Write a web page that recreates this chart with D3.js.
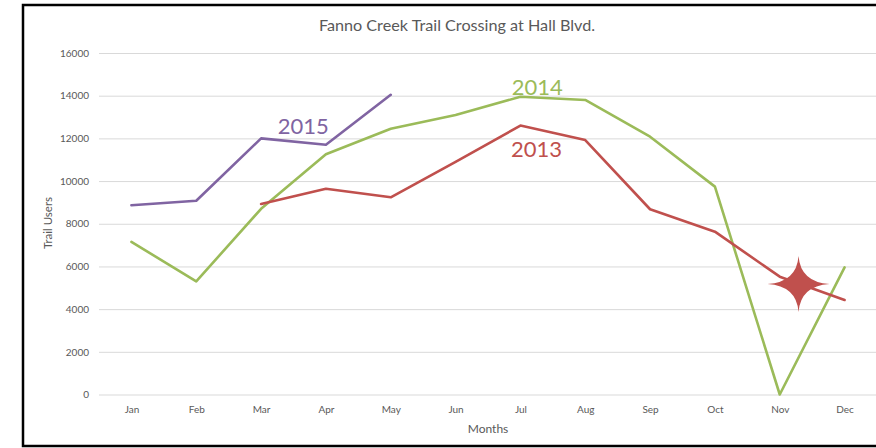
<!DOCTYPE html>
<html>
<head>
<meta charset="utf-8">
<script src="https://cdn.jsdelivr.net/npm/d3@7"></script>
<style>
  html, body { margin: 0; padding: 0; background: #fff; }
  svg { display: block; }
  text { font-family: Lato, "Open Sans", sans-serif; }
</style>
</head>
<body>
<svg id="chart" width="876" height="448"></svg>
<script>
const months = ["Jan","Feb","Mar","Apr","May","Jun","Jul","Aug","Sep","Oct","Nov","Dec"];
const yTicks = [0, 2000, 4000, 6000, 8000, 10000, 12000, 14000, 16000];
const values2015 = [8870, 9080, 12000, 11700, 14040, null, null, null, null, null, null, null];
const values2014 = [7150, 5300, 8700, 11260, 12450, 13100, 13950, 13800, 12080, 9740, 0, 5960];
const values2013 = [null, null, 8930, 9640, 9240, 10900, 12600, 11920, 8680, 7630, 5520, 4430];
const seriesNames = ["2015", "2014", "2013"];
const seriesColors = ["#8064a2", "#9bbb59", "#c0504d"];
// label anchor: [month index (fractional), value at baseline]
const labelPos = [[2.65, 12200], [6.26, 14030], [6.25, 11140]];
const starPos = [10.29, 5180];

(function () {
const svg = d3.select("#chart");

// frame
svg.append("rect").attr("x", 23).attr("y", 5).attr("width", 870).attr("height", 441)
  .attr("fill", "#fff").attr("stroke", "#000").attr("stroke-width", 2.5);

const pLeft = 99, pRight = 877, pTop = 53, pBottom = 394.5;
const x = d3.scalePoint().domain(months).range([pLeft, pRight]).padding(0.5);
const y = d3.scaleLinear().domain([0, 16000]).range([pBottom, pTop]);
const step = x.step();
const xf = i => x(months[0]) + i * step;

// title
svg.append("text").attr("x", 457).attr("y", 31).attr("text-anchor", "middle")
  .attr("font-size", 16.2).attr("fill", "#595959")
  .text("Fanno Creek Trail Crossing at Hall Blvd.");

// y axis with gridlines
const yAxis = svg.append("g").attr("transform", `translate(${pLeft},0)`)
  .call(d3.axisLeft(y).tickValues(yTicks).tickSize(-(pRight - pLeft)).tickPadding(10).tickFormat(d3.format("d")));
yAxis.select(".domain").remove();
yAxis.selectAll(".tick line").attr("stroke", "#d9d9d9").attr("stroke-width", 1);
yAxis.selectAll(".tick text").attr("font-size", 10).attr("fill", "#595959")
  .style("font-family", "Lato, 'Open Sans', sans-serif");

// x axis
const xAxis = svg.append("g").attr("transform", `translate(0,${pBottom})`)
  .call(d3.axisBottom(x).tickSize(0).tickPadding(11));
xAxis.select(".domain").remove();
xAxis.selectAll(".tick text").attr("font-size", 10).attr("fill", "#595959")
  .style("font-family", "Lato, 'Open Sans', sans-serif");

// axis titles
svg.append("text").attr("transform", `translate(52,223) rotate(-90)`).attr("text-anchor", "middle")
  .attr("font-size", 11.5).attr("fill", "#595959").text("Trail Users");
svg.append("text").attr("x", 488).attr("y", 433).attr("text-anchor", "middle")
  .attr("font-size", 12).attr("fill", "#595959").text("Months");

// lines
const allSeries = [values2015, values2014, values2013];
const line = d3.line().defined(d => d != null).x((d, i) => x(months[i])).y(d => y(d));
allSeries.forEach((vals, k) => {
  svg.append("path").datum(vals).attr("d", line).attr("fill", "none")
    .attr("stroke", seriesColors[k]).attr("stroke-width", 2.6)
    .attr("stroke-linejoin", "round").attr("stroke-linecap", "round");
});

// series labels
seriesNames.forEach((name, k) => {
  svg.append("text").attr("x", xf(labelPos[k][0])).attr("y", y(labelPos[k][1]))
    .attr("text-anchor", "middle").attr("font-size", 22).attr("fill", seriesColors[k]).text(name);
});

// star annotation (4-pointed)
const cx = xf(starPos[0]), cy = y(starPos[1]);
const rx = 31, ry = 28, c = 0.13;
const tips = [[cx, cy - ry], [cx + rx, cy], [cx, cy + ry], [cx - rx, cy]];
const sp = d3.path();
sp.moveTo(tips[0][0], tips[0][1]);
for (let i = 0; i < 4; i++) {
  const a = tips[i], b = tips[(i + 1) % 4];
  const mx = (a[0] + b[0]) / 2, my = (a[1] + b[1]) / 2;
  const ctrlX = cx + (mx - cx) * c, ctrlY = cy + (my - cy) * c;
  sp.quadraticCurveTo(ctrlX, ctrlY, b[0], b[1]);
}
sp.closePath();
svg.append("path").attr("d", sp.toString()).attr("fill", "#c0504d");
})();
</script>
</body>
</html>
